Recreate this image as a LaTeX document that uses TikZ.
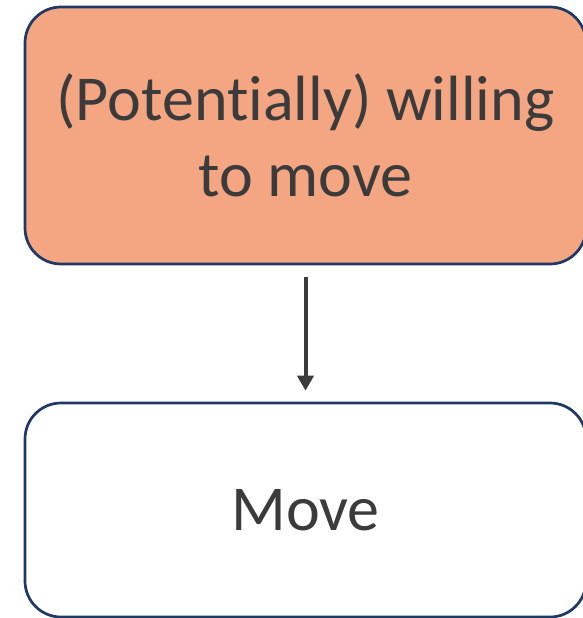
\documentclass[tikz,border=0pt]{standalone}
\usepackage{fontspec}
\setmainfont[Ligatures={NoCommon}]{Carlito}
\usetikzlibrary{arrows.meta}
\definecolor{boxfill}{HTML}{F4A582}
\definecolor{boxline}{HTML}{1F3864}
\definecolor{txt}{HTML}{3B3B3B}
\tikzset{
  box/.style={draw=boxline, line width=2.7pt, rounded corners=36pt, minimum width=561pt,
    inner sep=0pt, text=txt, align=center, font=\fontsize{64}{76}\selectfont},
  conn/.style={draw=txt, line width=4pt, -{Triangle[width=16pt,length=15pt]}}
}
\begin{document}
\begin{tikzpicture}[x=1pt,y=-1pt]
\useasboundingbox (0,0) rectangle (582,618);
\node[box, fill=boxfill, minimum height=257pt] (top) at (305.5,135.5) {(Potentially) willing\\to move};
\node[box, fill=white, minimum height=214pt] (bot) at (305.5,510) {\raisebox{-3pt}{Move}};
\draw[conn, shorten <=12pt, shorten >=11pt] (top.south) -- (bot.north);
\end{tikzpicture}
\end{document}
